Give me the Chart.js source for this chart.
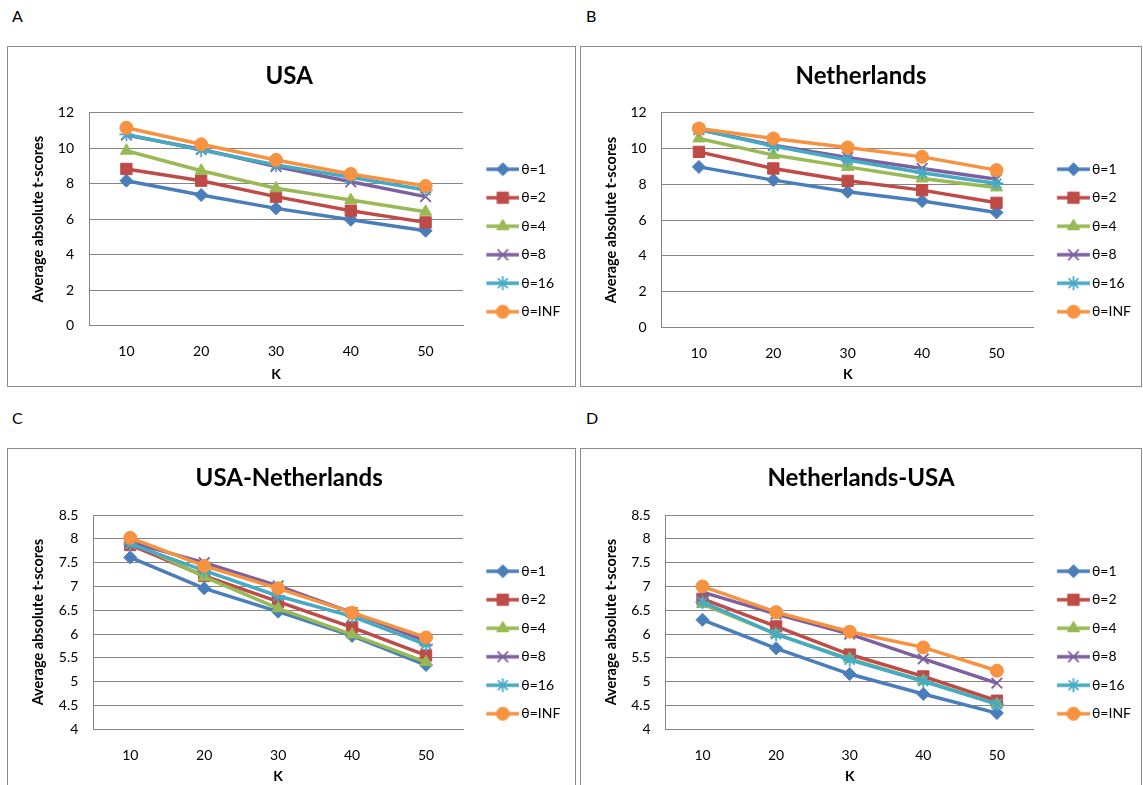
<!DOCTYPE html>
<html>
<head>
<meta charset="utf-8">
<script src="https://cdn.jsdelivr.net/npm/chart.js@4/dist/chart.umd.min.js"></script>
<style>
  body { margin: 0; background: #fff; width: 1143px; height: 785px; overflow: hidden; position: relative; font-family: Lato, sans-serif; }
  .box { position: absolute; box-sizing: border-box; border: 1px solid #8c8c8c; }
  .tag { position: absolute; font-size: 16px; line-height: 16px; color: #000; }
  canvas { position: absolute; }
</style>
</head>
<body>
<div class="tag" style="left:12px; top:8px;">A</div>
<div class="tag" style="left:586px; top:8px;">B</div>
<div class="tag" style="left:12px; top:410px;">C</div>
<div class="tag" style="left:586px; top:410px;">D</div>

<div class="box" style="left:7px; top:46px; width:569px; height:341px;"></div>
<div class="box" style="left:580px; top:46px; width:562px; height:341px;"></div>
<div class="box" style="left:7px; top:448px; width:569px; height:400px;"></div>
<div class="box" style="left:580px; top:448px; width:562px; height:400px;"></div>

<canvas id="chartA" width="567" height="387" style="left:8px; top:47px;"></canvas>
<canvas id="chartB" width="560" height="387" style="left:581px; top:47px;"></canvas>
<canvas id="chartC" width="567" height="387" style="left:8px; top:449px;"></canvas>
<canvas id="chartD" width="560" height="387" style="left:581px; top:449px;"></canvas>

<script>
// Dữ liệu: trục K và các đường theta
const kLabels = ['10', '20', '30', '40', '50'];
const thetaNames = ['θ=1', 'θ=2', 'θ=4', 'θ=8', 'θ=16', 'θ=INF'];

// mỗi dòng là một theta (1, 2, 4, 8, 16, INF), các cột theo K
const usaScores = [
    [8.17, 7.36, 6.61, 5.97, 5.35],
    [8.83, 8.17, 7.27, 6.48, 5.82],
    [9.86, 8.73, 7.74, 7.08, 6.42],
    [10.74, 9.94, 8.96, 8.11, 7.27],
    [10.78, 9.90, 9.05, 8.36, 7.65],
    [11.15, 10.22, 9.34, 8.55, 7.87]
];
const netherlandsScores = [
    [8.97, 8.23, 7.58, 7.06, 6.42],
    [9.81, 8.88, 8.19, 7.67, 6.96],
    [10.56, 9.63, 8.97, 8.32, 7.82],
    [11.06, 10.18, 9.50, 8.88, 8.28],
    [11.06, 10.13, 9.35, 8.64, 8.04],
    [11.12, 10.56, 10.06, 9.53, 8.79]
];
const usaNlScores = [
    [7.61, 6.96, 6.47, 5.96, 5.35],
    [7.87, 7.22, 6.68, 6.14, 5.55],
    [7.95, 7.20, 6.54, 5.99, 5.41],
    [7.93, 7.50, 7.01, 6.45, 5.85],
    [7.89, 7.33, 6.80, 6.37, 5.78],
    [8.02, 7.43, 6.96, 6.45, 5.93]
];
const nlUsaScores = [
    [6.30, 5.70, 5.16, 4.74, 4.34],
    [6.74, 6.16, 5.57, 5.11, 4.60],
    [6.63, 6.00, 5.48, 5.02, 4.53],
    [6.88, 6.42, 6.00, 5.48, 4.97],
    [6.67, 6.00, 5.46, 5.01, 4.53],
    [7.00, 6.46, 6.05, 5.72, 5.23]
];

// vạch chia trục tung
const topRowTicks = [0, 2, 4, 6, 8, 10, 12];
const bottomRowTicks = [4, 4.5, 5, 5.5, 6, 6.5, 7, 7.5, 8, 8.5];

// kiểu vẽ từng đường
const lineColors = ['#4a7ebb', '#be4b48', '#98b954', '#7d60a0', '#46aac5', '#f69240'];
const markerStyles = ['rectRot', 'rect', 'triangle', 'crossRot', 'star', 'circle'];
const markerSizes = [6.5, 8, 7, 7.5, 7, 6.5];
const markerBorders = [1, 1, 1, 1.8, 1.8, 1];
const gridColor = '#868686';

Chart.defaults.font.family = 'Lato';
Chart.defaults.color = '#000';

// chú thích: khoảng cách và kích thước
const legendPad = 14.5;
const legendBoxW = 36.8;
const legendFont = 14;

// đo chiều rộng tự nhiên của khung chú thích để canh vùng vẽ
function legendNaturalWidth() {
    let ctx = document.createElement('canvas').getContext('2d');
    ctx.font = legendFont + 'px Lato';
    let w = 0;
    thetaNames.forEach(n => { w = Math.max(w, ctx.measureText(n).width); });
    return legendPad + legendBoxW + legendFont / 2 + w + 10;
}
const legendWidth = legendNaturalWidth();

// icon chú thích: đoạn thẳng có marker ở giữa (giống Excel)
function makeIcon(i) {
    const c = document.createElement('canvas');
    c.width = 47;
    c.height = 18;
    const ctx = c.getContext('2d');
    ctx.strokeStyle = lineColors[i];
    ctx.lineWidth = 3.5;
    ctx.beginPath();
    ctx.moveTo(13.9, 9);
    ctx.lineTo(46.9, 9);
    ctx.stroke();
    ctx.fillStyle = lineColors[i];
    ctx.lineWidth = markerBorders[i];
    if (Chart.helpers && Chart.helpers.drawPoint) {
        Chart.helpers.drawPoint(ctx, {
            pointStyle: markerStyles[i], radius: markerSizes[i], rotation: 0, borderWidth: markerBorders[i]
        }, 30.4, 9);
    } else {
        ctx.beginPath();
        ctx.arc(30.4, 9, 5, 0, Math.PI * 2);
        ctx.fill();
    }
    return c;
}
const legendIcons = thetaNames.map((n, i) => makeIcon(i));

function legendLabels(chart) {
    const items = Chart.defaults.plugins.legend.labels.generateLabels(chart);
    items.sort((a, b) => a.datasetIndex - b.datasetIndex);
    return items.map(it => Object.assign(it, { pointStyle: legendIcons[it.datasetIndex] }));
}

function makePanel(canvasId, title, scores, yTicks, g) {
    const canvas = document.getElementById(canvasId);
    const datasets = scores.map((row, i) => ({
        label: thetaNames[i],
        data: row,
        borderColor: lineColors[i],
        backgroundColor: lineColors[i],
        borderWidth: 3.5,
        tension: 0,
        pointStyle: markerStyles[i],
        pointRadius: markerSizes[i],
        pointBorderWidth: markerBorders[i],
        pointBackgroundColor: lineColors[i],
        pointBorderColor: lineColors[i],
        order: scores.length - i
    }));

    const step = yTicks[1] - yTicks[0];
    const padRight = Math.max(0, canvas.width - g.right - legendWidth);
    const config = {
        type: 'line',
        data: { labels: kLabels, datasets: datasets },
        options: {
            responsive: false,
            animation: false,
            events: [],
            layout: { padding: { left: 0, right: padRight, top: 0, bottom: 0 } },
            plugins: {
                title: {
                    display: true,
                    text: title,
                    color: '#000',
                    font: { size: 24, weight: 'bold' },
                    padding: { top: 14.6, bottom: g.top - 28.8 - 14.6 }
                },
                legend: {
                    position: 'right',
                    align: 'center',
                    labels: {
                        usePointStyle: true,
                        pointStyleWidth: legendBoxW,
                        padding: legendPad,
                        font: { size: legendFont },
                        color: '#000',
                        generateLabels: legendLabels
                    }
                },
                tooltip: { enabled: false }
            },
            scales: {
                x: {
                    offset: true,
                    grid: { display: false, drawTicks: false },
                    border: { color: gridColor, width: 1 },
                    ticks: { padding: 17.6, font: { size: 14 }, maxRotation: 0 },
                    title: { display: true, text: 'K', font: { size: 14, weight: 'bold' }, padding: { top: 0, bottom: 51 } },
                    afterFit: function(s) { s.height = 387 - g.bottom; }
                },
                y: {
                    min: yTicks[0],
                    max: yTicks[yTicks.length - 1],
                    grid: { color: gridColor, drawTicks: false },
                    border: { color: gridColor, width: 1 },
                    ticks: {
                        stepSize: step,
                        padding: 15,
                        font: { size: 14 },
                        callback: function(v) { return String(+v.toFixed(1)); }
                    },
                    title: { display: true, text: 'Average absolute t-scores', font: { size: 14.5, weight: 'bold' }, padding: { top: 21.6, bottom: 0 } },
                    afterFit: function(s) { s.width = g.left; }
                }
            }
        }
    };

    let context = canvas.getContext('2d');
    new Chart(context, config);
}

makePanel('chartA', 'USA', usaScores, topRowTicks, { left: 81, right: 455, top: 65.7, bottom: 278.7 });
makePanel('chartB', 'Netherlands', netherlandsScores, topRowTicks, { left: 80.7, right: 454.7, top: 65.7, bottom: 280.3 });
makePanel('chartC', 'USA-Netherlands', usaNlScores, bottomRowTicks, { left: 85.3, right: 455, top: 66, bottom: 280.3 });
makePanel('chartD', 'Netherlands-USA', nlUsaScores, bottomRowTicks, { left: 84.7, right: 454.7, top: 66, bottom: 280.3 });
</script>
</body>
</html>
